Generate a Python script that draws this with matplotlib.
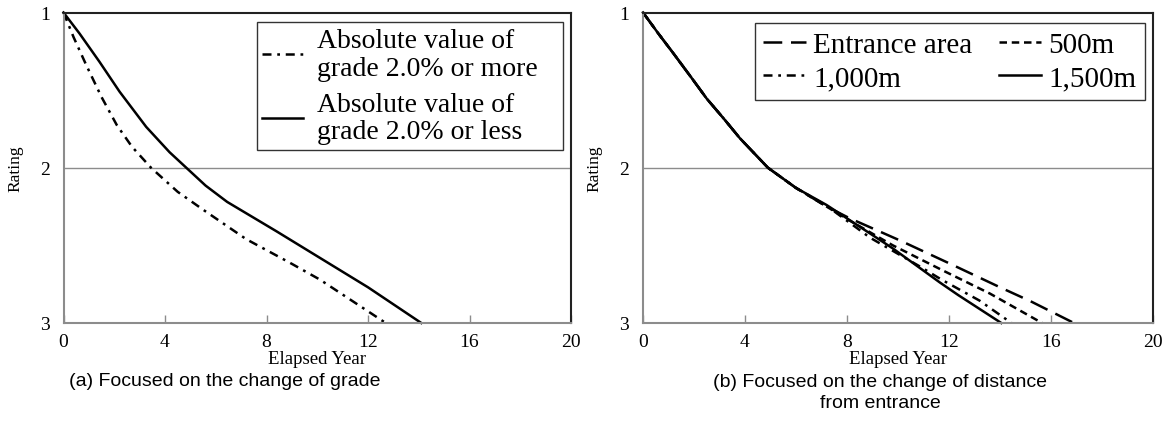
import matplotlib
matplotlib.use("Agg")
import matplotlib.pyplot as plt

# ---- data ----
grade_more_x = [0, 0.4, 0.9, 1.5, 2.1, 2.7, 3.45, 4.5, 5.5, 7.2, 8.9, 10.1, 11.4, 12.7]
grade_more_y = [1, 1.16, 1.34, 1.545, 1.725, 1.865, 2.0, 2.155, 2.27, 2.46, 2.61, 2.72, 2.86, 3.0]
grade_less_x = [0, 0.63, 1.42, 2.21, 3.26, 4.18, 4.84, 5.6, 6.45, 8.4, 9.4, 10.1, 12.0, 14.1]
grade_less_y = [1, 1.135, 1.318, 1.51, 1.737, 1.90, 2.0, 2.115, 2.22, 2.41, 2.51, 2.58, 2.77, 3.0]

entrance_x = [0, 0.6, 1.2, 1.9, 2.5, 3.2, 3.8, 4.9, 6.0, 7.2, 8.1, 10.1, 12.0, 14.0, 15.2, 16.9]
entrance_y = [1, 1.135, 1.265, 1.42, 1.555, 1.69, 1.81, 2.0, 2.13, 2.25, 2.325, 2.47, 2.615, 2.77, 2.86, 3.0]
m500_x = [0, 0.6, 1.2, 1.9, 2.5, 3.2, 3.8, 4.9, 6.0, 7.2, 8.1, 9.8, 11.8, 13.6, 15.65]
m500_y = [1, 1.135, 1.265, 1.42, 1.555, 1.69, 1.81, 2.0, 2.13, 2.25, 2.34, 2.50, 2.665, 2.81, 3.0]
m1000_x = [0, 0.6, 1.2, 1.9, 2.5, 3.2, 3.8, 4.9, 6.0, 7.2, 8.9, 10.9, 11.7, 13.2, 14.45]
m1000_y = [1, 1.135, 1.265, 1.42, 1.555, 1.69, 1.81, 2.0, 2.13, 2.245, 2.45, 2.64, 2.72, 2.856, 3.0]
m1500_x = [0, 0.6, 1.2, 1.9, 2.5, 3.2, 3.8, 4.9, 6.0, 7.2, 9.8, 11.65, 12.36, 14.05]
m1500_y = [1, 1.135, 1.265, 1.42, 1.555, 1.69, 1.81, 2.0, 2.13, 2.24, 2.52, 2.74, 2.82, 3.0]

x_ticks = [0, 4, 8, 12, 16, 20]
y_ticks = [1, 2, 3]
left_labels = ["Absolute value of\ngrade 2.0% or more", "Absolute value of\ngrade 2.0% or less"]
right_labels = ["Entrance area", "500m", "1,000m", "1,500m"]
caption_a = "(a) Focused on the change of grade"
caption_b = "(b) Focused on the change of distance\nfrom entrance"

serif = "Liberation Serif"
sans = "Liberation Sans"

fig = plt.figure(figsize=(11.68, 4.39), dpi=100)
axL = fig.add_axes([63.5 / 1168, 1 - 324 / 439, 507.5 / 1168, 310.5 / 439])
axR = fig.add_axes([643 / 1168, 1 - 324 / 439, 510 / 1168, 310.5 / 439])

GRAY = "#8c8c8c"
lw = 1.8
DASHDOT = (3.6, 2.3, 1.1, 2.3)


def style(ax):
    ax.set_xlim(0, 20)
    ax.set_ylim(3, 1)
    ax.set_xticks(x_ticks)
    ax.set_yticks(y_ticks)
    ax.set_xticklabels([str(v) for v in x_ticks], fontfamily=serif, fontsize=14)
    ax.set_yticklabels([str(v) for v in y_ticks], fontfamily=serif, fontsize=14)
    ax.tick_params(axis="x", direction="in", length=6, width=1, color=GRAY, pad=7)
    ax.tick_params(axis="y", length=0, pad=10)
    ax.axhline(2, color=GRAY, lw=1, zorder=0)
    for s in ["left", "bottom"]:
        ax.spines[s].set_color(GRAY)
        ax.spines[s].set_linewidth(1.5)
    for s in ["top", "right"]:
        ax.spines[s].set_color("#222222")
        ax.spines[s].set_linewidth(1.5)
    ax.set_xlabel("Elapsed Year", fontfamily=serif, fontsize=13.5, labelpad=0)
    ax.set_ylabel("Rating", fontfamily=serif, fontsize=12.5, labelpad=12)


style(axL)
style(axR)

axL.plot(grade_more_x, grade_more_y, color="black", lw=lw, dashes=DASHDOT,
         label=left_labels[0], clip_on=False)
axL.plot(grade_less_x, grade_less_y, color="black", lw=lw, label=left_labels[1], clip_on=False)

lE, = axR.plot(entrance_x, entrance_y, color="black", lw=lw, dashes=(7.5, 3.5), clip_on=False)
l5, = axR.plot(m500_x, m500_y, color="black", lw=lw, dashes=(3, 1.9), clip_on=False)
l10, = axR.plot(m1000_x, m1000_y, color="black", lw=lw, dashes=DASHDOT, clip_on=False)
l15, = axR.plot(m1500_x, m1500_y, color="black", lw=lw, clip_on=False)

legL = axL.legend(loc="upper left", bbox_to_anchor=(0.381, 0.5, 0.603, 0.469), mode="expand",
                  borderaxespad=0,
                  prop={"family": serif, "size": 20}, frameon=True, fancybox=False,
                  edgecolor="black", handlelength=1.45, handletextpad=0.5,
                  labelspacing=0.4, borderpad=0.2)
legL.get_frame().set_linewidth(1.0)
for t in legL.get_texts():
    t.set_linespacing(1.15)

# column-major fill: first column Entrance/1,000m, second 500m/1,500m
legR = axR.legend([lE, l10, l5, l15],
                  [right_labels[0], right_labels[2], right_labels[1], right_labels[3]],
                  loc="upper right", bbox_to_anchor=(0.984, 0.966), borderaxespad=0, ncol=2,
                  prop={"family": serif, "size": 21}, frameon=True, fancybox=False,
                  edgecolor="black", handlelength=1.45, handletextpad=0.25,
                  labelspacing=0.22, columnspacing=0.9, borderpad=0.3)
legR.get_frame().set_linewidth(1.0)

fig.text(225 / 1168, 1 - 382 / 439, caption_a, ha="center", va="center",
         fontfamily=sans, fontsize=14)
fig.text(880 / 1168, 1 - 393 / 439, caption_b, ha="center", va="center",
         fontfamily=sans, fontsize=14, linespacing=1.25)

fig.savefig("out.png", dpi=100)
